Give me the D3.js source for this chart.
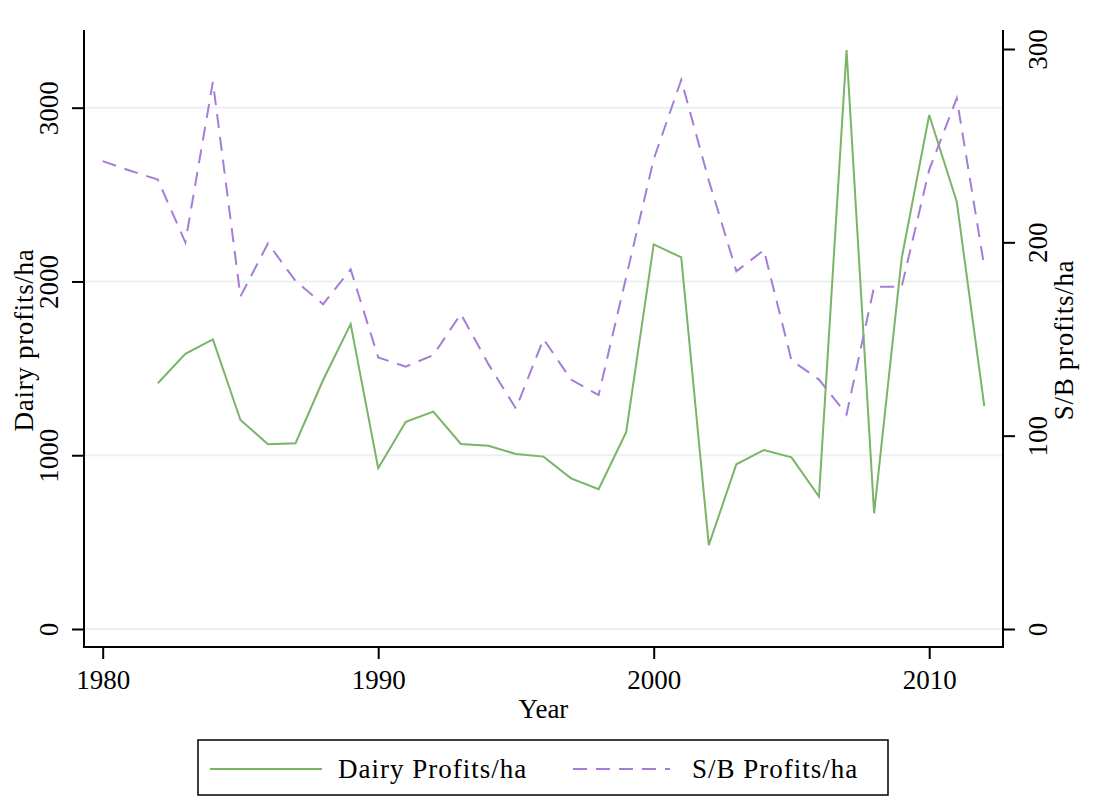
<!DOCTYPE html>
<html>
<head>
<meta charset="utf-8">
<script src="https://cdn.jsdelivr.net/npm/d3@7"></script>
<style>
  body { margin: 0; background: #fff; }
  text { font-family: "Liberation Serif", "Times New Roman", serif; fill: #000; }
</style>
</head>
<body>
<script>
// years on the x axis
var years = [1980, 1981, 1982, 1983, 1984, 1985, 1986, 1987, 1988, 1989,
             1990, 1991, 1992, 1993, 1994, 1995, 1996, 1997, 1998, 1999,
             2000, 2001, 2002, 2003, 2004, 2005, 2006, 2007, 2008, 2009,
             2010, 2011, 2012];

// dairy profits/ha (left axis), no data before 1982
var dairyProfits = [null, null, 1414, 1583, 1667, 1203, 1063, 1069, 1433, 1755,
                    925, 1193, 1251, 1065, 1055, 1007, 992, 867, 804, 1132,
                    2213, 2139, 483, 948, 1030, 988, 762, 3332, 666, 2133,
                    2958, 2459, 1283];

// S/B profits/ha (right axis)
var sbProfits = [242, 237, 232.5, 200, 283, 172, 199.5, 180, 168, 186,
                 140.5, 135.7, 141.7, 163, 137, 114, 150, 129, 121, 182,
                 243, 284, 232, 185, 196, 139, 129, 111, 177, 177,
                 237.5, 274.5, 187.4];

var xTicks = [1980, 1990, 2000, 2010];
var leftTicks = [0, 1000, 2000, 3000];
var rightTicks = [0, 100, 200, 300];

var seriesNames = ["Dairy Profits/ha", "S/B Profits/ha"];
var green = "#7ab466";
var purple = "#a57dd8";

var W = 1116, H = 803;
var plot = { left: 84, right: 1003, top: 30, bottom: 647 };

var svg = d3.select("body").append("svg")
    .attr("width", W)
    .attr("height", H);

var x = d3.scaleLinear().domain([1980, 2012]).range([102.7, 984.3]);
var yLeft = d3.scaleLinear().domain([0, 3000]).range([629, 107.7]);
var yRight = d3.scaleLinear().domain([0, 300]).range([629, 49]);

// gridlines
svg.append("g")
  .selectAll("line")
  .data(leftTicks)
  .enter()
  .append("line")
    .attr("x1", plot.left)
    .attr("x2", plot.right)
    .attr("y1", function (d) { return yLeft(d); })
    .attr("y2", function (d) { return yLeft(d); })
    .attr("stroke", "#eaf1f3")
    .attr("stroke-width", 2);

// lines
var dairyLine = d3.line()
    .defined(function (d, i) { return dairyProfits[i] != null; })
    .x(function (d, i) { return x(years[i]); })
    .y(function (d, i) { return yLeft(dairyProfits[i]); });

var sbLine = d3.line()
    .x(function (d, i) { return x(years[i]); })
    .y(function (d, i) { return yRight(sbProfits[i]); });

svg.append("path")
    .attr("d", dairyLine(years))
    .attr("fill", "none")
    .attr("stroke", green)
    .attr("stroke-width", 2);

svg.append("path")
    .attr("d", sbLine(years))
    .attr("fill", "none")
    .attr("stroke", purple)
    .attr("stroke-width", 2)
    .attr("stroke-dasharray", "14,9");

// axes
var fontSize = 27;

var gLeft = svg.append("g")
    .attr("transform", "translate(" + plot.left + ",0)")
    .call(d3.axisLeft(yLeft).tickValues(leftTicks).tickSize(12).tickFormat(d3.format("d")));
gLeft.select(".domain").remove();
gLeft.selectAll("line").attr("stroke", "#000").attr("stroke-width", 2);
gLeft.selectAll("text")
    .attr("transform", "rotate(-90)")
    .attr("x", 0).attr("y", -26).attr("dy", 0)
    .attr("text-anchor", "middle")
    .style("font-size", fontSize + "px");

var gRight = svg.append("g")
    .attr("transform", "translate(" + plot.right + ",0)")
    .call(d3.axisRight(yRight).tickValues(rightTicks).tickSize(12).tickFormat(d3.format("d")));
gRight.select(".domain").remove();
gRight.selectAll("line").attr("stroke", "#000").attr("stroke-width", 2);
gRight.selectAll("text")
    .attr("transform", "rotate(-90)")
    .attr("x", 0).attr("y", 44).attr("dy", 0)
    .attr("text-anchor", "middle")
    .style("font-size", fontSize + "px");

var gBottom = svg.append("g")
    .attr("transform", "translate(0," + plot.bottom + ")")
    .call(d3.axisBottom(x).tickValues(xTicks).tickSize(12).tickFormat(d3.format("d")));
gBottom.select(".domain").remove();
gBottom.selectAll("line").attr("stroke", "#000").attr("stroke-width", 2);
gBottom.selectAll("text")
    .attr("y", 42).attr("dy", 0)
    .style("font-size", fontSize + "px");

// axis lines (left, bottom, right)
svg.append("path")
    .attr("d", "M" + plot.left + "," + plot.top + "V" + plot.bottom + "H" + plot.right + "V" + plot.top)
    .attr("fill", "none")
    .attr("stroke", "#000")
    .attr("stroke-width", 2);

// axis titles
var midY = 340;
svg.append("text")
    .attr("transform", "translate(33," + midY + ") rotate(-90)")
    .attr("text-anchor", "middle")
    .style("font-size", fontSize + "px")
    .style("letter-spacing", "0.7px")
    .text("Dairy profits/ha");

svg.append("text")
    .attr("transform", "translate(1073," + midY + ") rotate(-90)")
    .attr("text-anchor", "middle")
    .style("font-size", fontSize + "px")
    .style("letter-spacing", "0.7px")
    .text("S/B profits/ha");

svg.append("text")
    .attr("x", (plot.left + plot.right) / 2)
    .attr("y", 718)
    .attr("text-anchor", "middle")
    .style("font-size", fontSize + "px")
    .text("Year");

// legend
var legend = svg.append("g");
legend.append("rect")
    .attr("x", 198).attr("y", 740)
    .attr("width", 690).attr("height", 55)
    .attr("fill", "#fff")
    .attr("stroke", "#000")
    .attr("stroke-width", 1.5);

var legendItems = [
  { name: seriesNames[0], color: green, dash: null, x0: 210, x1: 322, tx: 338 },
  { name: seriesNames[1], color: purple, dash: "14,9", x0: 573, x1: 670, tx: 692 }
];

var items = legend.selectAll("g.item")
    .data(legendItems)
    .enter()
    .append("g")
    .attr("class", "item");

items.append("line")
    .attr("x1", function (d) { return d.x0; })
    .attr("x2", function (d) { return d.x1; })
    .attr("y1", 769).attr("y2", 769)
    .attr("stroke", function (d) { return d.color; })
    .attr("stroke-width", 2)
    .attr("stroke-dasharray", function (d) { return d.dash; });

items.append("text")
    .attr("x", function (d) { return d.tx; })
    .attr("y", 778)
    .style("font-size", fontSize + "px")
    .style("letter-spacing", "1px")
    .text(function (d) { return d.name; });
</script>
</body>
</html>
